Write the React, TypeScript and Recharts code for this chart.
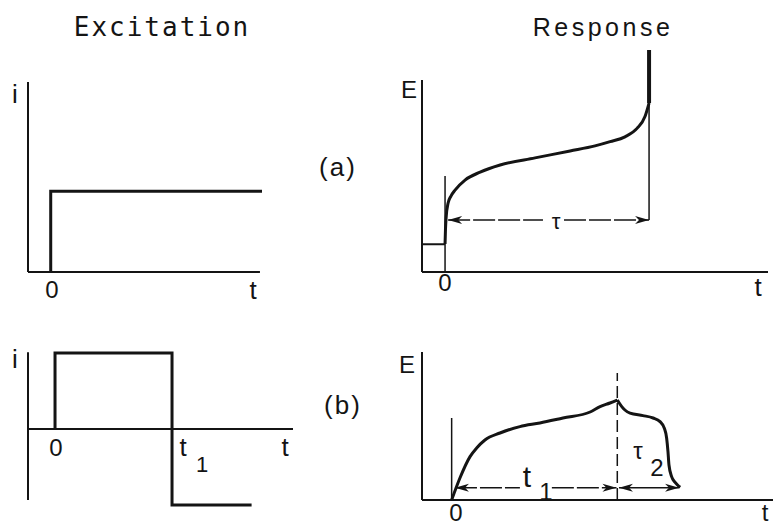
import React from 'react';
import { LineChart, Line, XAxis, YAxis } from 'recharts';

const W = 773;
const H = 526;
const INK = '#141414';

// ---------- (a) constant-current step ----------
const stepA_t = [0, 0, 9.3];
const stepA_i = [0, 1, 1];

// ---------- (a) potential response (time in units of τ) ----------
const baseA_t = [-0.113, 0];
const baseA_E = [1.25, 1.25];
const respA_t = [0, 0.002, 0.005, 0.015, 0.029, 0.049, 0.098, 0.172, 0.27, 0.441, 0.613, 0.735, 0.809, 0.882, 0.941, 0.98, 1.0];
const respA_E = [1.26, 1.89, 2.43, 3.11, 3.42, 3.69, 4.14, 4.5, 4.82, 5.14, 5.45, 5.68, 5.87, 6.09, 6.47, 7.0, 7.61];
const spikeA_t = [1, 1];
const spikeA_E = [7.61, 10];
const tauLevelA = 2.34;

// ---------- (b) current reversal at t1 ----------
const stepB_t = [0, 0, 1, 1, 1.68];
const stepB_i = [0, 1, 1, -1, -1];

// ---------- (b) potential response (time in units of t1) ----------
const riseB_t = [0, 0.05, 0.111, 0.151, 0.201, 0.292, 0.412, 0.533, 0.672, 0.836, 0.896, 0.956, 1.0];
const riseB_E = [0, 1.1, 2.17, 2.6, 3.0, 3.35, 3.67, 3.85, 4.1, 4.4, 4.67, 4.85, 5.0];
const fallB_t = [1.0, 1.027, 1.046, 1.077, 1.155, 1.216, 1.258, 1.284, 1.298, 1.306, 1.312, 1.328, 1.348, 1.367, 1.38];
const fallB_E = [5.0, 4.67, 4.5, 4.34, 4.22, 4.1, 3.92, 3.59, 3.09, 2.42, 1.75, 1.17, 0.89, 0.72, 0.64];
const arrowLevelB = 0.615;

type Pt = { t: number; v: number; head?: 'left' | 'right' };

const zip = (t: number[], v: number[]): Pt[] => t.map((x, k) => ({ t: x, v: v[k] }));
const seg = (t0: number, v0: number, t1: number, v1: number): Pt[] => [
  { t: t0, v: v0 },
  { t: t1, v: v1 },
];
const arrow = (t0: number, t1: number, v: number, left: boolean, right: boolean): Pt[] => [
  { t: t0, v, head: left ? 'left' : undefined },
  { t: t1, v, head: right ? 'right' : undefined },
];

// filled arrowhead whose tip sits on the data point
const arrowDot = (props: any) => {
  const { cx, cy, payload, index } = props;
  if (!payload || !payload.head || cx == null || cy == null) return <g key={`n${index}`} />;
  const d = payload.head === 'left' ? 1 : -1;
  const L = 14;
  const hw = 4;
  const pts = `${cx},${cy} ${cx + d * L},${cy - hw} ${cx + d * L * 0.72},${cy} ${cx + d * L},${cy + hw}`;
  return <polygon key={`h${index}`} points={pts} fill={INK} />;
};

type Frame = { left: number; top: number; right: number; bottom: number };

function Panel({
  frame,
  xDomain,
  yDomain,
  children,
}: {
  frame: Frame;
  xDomain: [number, number];
  yDomain: [number, number];
  children: React.ReactNode;
}) {
  return (
    <div style={{ position: 'absolute', left: 0, top: 0, width: W, height: H }}>
      <LineChart
        width={W}
        height={H}
        margin={{ left: frame.left, top: frame.top, right: W - frame.right, bottom: H - frame.bottom }}
      >
        <XAxis type="number" dataKey="t" domain={xDomain} hide />
        <YAxis type="number" domain={yDomain} hide />
        {children}
      </LineChart>
    </div>
  );
}

const lineProps = {
  dataKey: 'v',
  dot: false,
  activeDot: false,
  isAnimationActive: false,
  stroke: INK,
  strokeLinejoin: 'miter' as const,
};

function Label({
  x,
  y,
  text,
  size = 24,
  family = '"Liberation Sans", "DejaVu Sans", sans-serif',
  spacing = 0,
}: {
  x: number;
  y: number;
  text: string;
  size?: number;
  family?: string;
  spacing?: number;
}) {
  return (
    <div
      style={{
        position: 'absolute',
        left: x,
        top: y,
        transform: 'translate(-50%, -50%)',
        fontFamily: family,
        fontSize: size,
        lineHeight: 1,
        letterSpacing: spacing,
        color: INK,
        whiteSpace: 'nowrap',
      }}
    >
      {text}
    </div>
  );
}

export default function App() {
  return (
    <div
      style={{
        position: 'absolute',
        left: 0,
        top: 0,
        width: W,
        height: H,
        background: '#ffffff',
        overflow: 'hidden',
      }}
    >
      {/* (a) excitation: current step */}
      <Panel frame={{ left: 28, top: 82, right: 262, bottom: 272 }} xDomain={[-1, 9.3]} yDomain={[0, 2.35]}>
        <Line {...lineProps} data={seg(-1, 0, -1, 2.35)} type="linear" strokeWidth={2} />
        <Line {...lineProps} data={seg(-1, 0, 9.21, 0)} type="linear" strokeWidth={2} />
        <Line {...lineProps} data={zip(stepA_t, stepA_i)} type="linear" strokeWidth={3} />
      </Panel>

      {/* (a) response: chronopotentiogram */}
      <Panel frame={{ left: 422, top: 50, right: 768, bottom: 272 }} xDomain={[-0.113, 1.583]} yDomain={[0, 10]}>
        <Line {...lineProps} data={seg(-0.113, 0, -0.113, 8.65)} type="linear" strokeWidth={2} />
        <Line {...lineProps} data={seg(-0.113, 0, 1.583, 0)} type="linear" strokeWidth={2} />
        <Line {...lineProps} data={seg(0, 0, 0, 4.32)} type="linear" strokeWidth={1.5} />
        <Line {...lineProps} data={seg(1, tauLevelA, 1, 7.61)} type="linear" strokeWidth={1.5} />
        <Line {...lineProps} data={zip(baseA_t, baseA_E)} type="linear" strokeWidth={2} />
        <Line {...lineProps} data={zip(respA_t, respA_E)} type="monotone" strokeWidth={3} />
        <Line {...lineProps} data={zip(spikeA_t, spikeA_E)} type="linear" strokeWidth={4} />
        <Line
          {...lineProps}
          data={arrow(0.015, 0.48, tauLevelA, true, false)}
          type="linear"
          strokeWidth={1.4}
          strokeDasharray="22 3"
          dot={arrowDot}
        />
        <Line
          {...lineProps}
          data={arrow(0.583, 1.0, tauLevelA, false, true)}
          type="linear"
          strokeWidth={1.4}
          strokeDasharray="22 3"
          dot={arrowDot}
        />
      </Panel>

      {/* (b) excitation: forward then reversed current */}
      <Panel frame={{ left: 28, top: 345.4, right: 293, bottom: 512.6 }} xDomain={[-0.231, 2.034]} yDomain={[-1.1, 1.1]}>
        <Line {...lineProps} data={seg(-0.231, 1.01, -0.231, -0.934)} type="linear" strokeWidth={2} />
        <Line {...lineProps} data={seg(-0.231, 0, 2.034, 0)} type="linear" strokeWidth={2} />
        <Line {...lineProps} data={zip(stepB_t, stepB_i)} type="linear" strokeWidth={3} />
      </Panel>

      {/* (b) response: current-reversal chronopotentiogram */}
      <Panel frame={{ left: 422, top: 352, right: 773, bottom: 500 }} xDomain={[-0.179, 1.94]} yDomain={[0, 7.4]}>
        <Line {...lineProps} data={seg(-0.179, 0, -0.179, 7.4)} type="linear" strokeWidth={2} />
        <Line {...lineProps} data={seg(-0.179, 0, 1.94, 0)} type="linear" strokeWidth={2} />
        <Line {...lineProps} data={seg(0, 0, 0, 4.1)} type="linear" strokeWidth={1.5} />
        <Line {...lineProps} data={seg(1, 0, 1, 6.35)} type="linear" strokeWidth={1.5} strokeDasharray="12 5" />
        <Line {...lineProps} data={zip(riseB_t, riseB_E)} type="monotone" strokeWidth={3} />
        <Line {...lineProps} data={zip(fallB_t, fallB_E)} type="monotone" strokeWidth={3} />
        <Line
          {...lineProps}
          data={arrow(0.02, 0.412, arrowLevelB, true, false)}
          type="linear"
          strokeWidth={1.4}
          strokeDasharray="22 3"
          dot={arrowDot}
        />
        <Line
          {...lineProps}
          data={arrow(0.605, 0.995, arrowLevelB, false, true)}
          type="linear"
          strokeWidth={1.4}
          strokeDasharray="22 3"
          dot={arrowDot}
        />
        <Line
          {...lineProps}
          data={arrow(1.01, 1.373, arrowLevelB, true, true)}
          type="linear"
          strokeWidth={1.4}
          dot={arrowDot}
        />
      </Panel>

      {/* headings */}
      <Label x={162} y={27} text="Excitation" size={26} spacing={2} family='"DejaVu Sans Mono", monospace' />
      <Label x={603} y={27} text="Response" size={25} spacing={3.5} />
      <Label x={338} y={167} text="(a)" size={26} spacing={2} />
      <Label x={343} y={405} text="(b)" size={26} spacing={2} />

      {/* (a) axis letters */}
      <Label x={15} y={94} text="i" size={26} />
      <Label x={52} y={290} text="0" size={24} />
      <Label x={253} y={290} text="t" size={26} />
      <Label x={409} y={90} text="E" size={24} />
      <Label x={445} y={283} text="0" size={24} />
      <Label x={758} y={287} text="t" size={26} />
      <Label x={556} y={222} text="τ" size={22} />

      {/* (b) axis letters */}
      <Label x={15} y={359} text="i" size={26} />
      <Label x={56} y={448} text="0" size={24} />
      <Label x={183} y={447} text="t" size={26} />
      <Label x={202} y={465} text="1" size={22} />
      <Label x={285} y={447} text="t" size={26} />
      <Label x={407} y={365} text="E" size={24} />
      <Label x={456} y={513} text="0" size={24} />
      <Label x={765} y={513} text="t" size={24} />
      <Label x={527} y={477} text="t" size={30} />
      <Label x={546} y={492} text="1" size={24} />
      <Label x={638} y={451} text="τ" size={24} />
      <Label x={657} y={468} text="2" size={24} />
    </div>
  );
}
